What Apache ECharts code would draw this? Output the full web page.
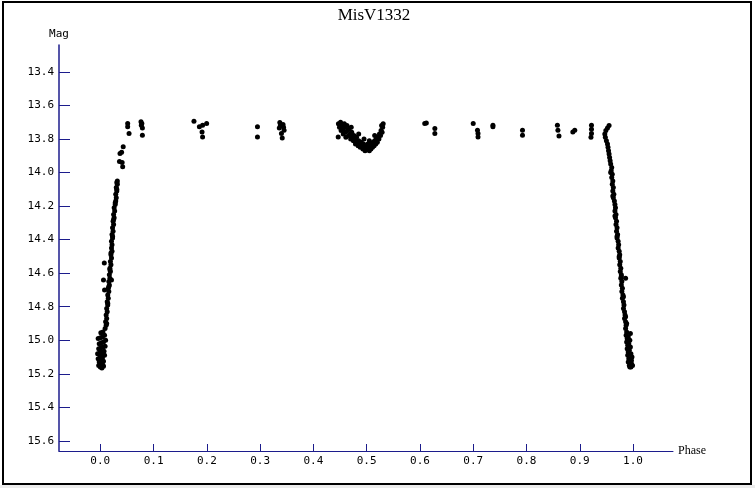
<!DOCTYPE html>
<html>
<head>
<meta charset="utf-8">
<script src="https://cdn.jsdelivr.net/npm/echarts@6/dist/echarts.min.js"></script>
<style>
  html, body { margin: 0; padding: 0; background: #fff; }
  #chart { width: 755px; height: 488px; }
</style>
</head>
<body>
<div id="chart"></div>
<script>
  // tick labels
  const phaseTicks = [0.0, 0.1, 0.2, 0.3, 0.4, 0.5, 0.6, 0.7, 0.8, 0.9, 1.0]
  const magTicks = [13.4, 13.6, 13.8, 14.0, 14.2, 14.4, 14.6, 14.8, 15.0, 15.2, 15.4, 15.6]

  // rise out of primary minimum (phase 0)
  const egressPhase = [
    0.000, 0.003, 0.006, 0.001, 0.004, -0.002, 0.002, 0.006, -0.004, 0.000, 0.004, 0.008,
    -0.005, -0.001, 0.003, 0.007, -0.003, 0.001, 0.005, 0.009, -0.002, 0.002, 0.006, 0.010,
    -0.004, 0.000, 0.004, 0.008, 0.001, 0.005, 0.003, 0.005, -0.003,
    0.009, 0.011, 0.010, 0.012, 0.011, 0.013, 0.012, 0.014, 0.013, 0.015, 0.014, 0.016,
    0.015, 0.017, 0.016, 0.018, 0.017, 0.019, 0.018, 0.020, 0.019, 0.021, 0.020, 0.022,
    0.021, 0.022, 0.021, 0.023, 0.022, 0.024, 0.023, 0.025, 0.024, 0.026, 0.025, 0.027,
    0.026, 0.028, 0.029, 0.030, 0.029, 0.031, 0.030, 0.032, 0.031, 0.032,
    0.0075, 0.006, 0.008, 0.021,
    0.036, 0.041, 0.042, 0.037, 0.040, 0.043,
    0.012, 0.014, 0.016, 0.018, 0.020, 0.023, 0.025, 0.028, 0.031
  ]
  const egressMag = [
    15.16, 15.165, 15.155, 15.14, 15.145, 15.13, 15.12, 15.125, 15.11, 15.10, 15.105, 15.09,
    15.08, 15.075, 15.07, 15.065, 15.05, 15.045, 15.04, 15.035, 15.02, 15.015, 15.01, 15.00,
    14.99, 14.985, 14.98, 14.97, 14.955, 14.95, 15.09, 15.15, 15.15,
    14.93, 14.91, 14.89, 14.87, 14.85, 14.83, 14.81, 14.79, 14.77, 14.75, 14.73, 14.71,
    14.69, 14.67, 14.65, 14.63, 14.61, 14.59, 14.57, 14.55, 14.53, 14.51, 14.49, 14.47,
    14.45, 14.43, 14.41, 14.39, 14.37, 14.35, 14.33, 14.31, 14.29, 14.27, 14.25, 14.23,
    14.21, 14.19, 14.17, 14.15, 14.13, 14.11, 14.09, 14.07, 14.06, 14.05,
    14.54, 14.64, 14.70, 14.64,
    13.935, 13.94, 13.965, 13.887, 13.88, 13.846,
    14.90, 14.78, 14.68, 14.58, 14.48, 14.38, 14.28, 14.18, 14.10
  ]

  // out-of-eclipse points
  const plateauPhase = [
    0.0514, 0.0514, 0.054, 0.0764, 0.077, 0.079, 0.079, 0.078,
    0.1758, 0.186, 0.192, 0.1996, 0.191, 0.192,
    0.295, 0.295, 0.337, 0.343, 0.336, 0.345, 0.340, 0.3415, 0.338, 0.344,
    0.609, 0.612, 0.628, 0.628, 0.700, 0.708, 0.709, 0.709, 0.737, 0.737,
    0.7925, 0.7925, 0.858, 0.859, 0.861, 0.887, 0.8906,
    0.922, 0.922, 0.922, 0.921
  ]
  const plateauMag = [
    13.708, 13.728, 13.768, 13.698, 13.718, 13.734, 13.778, 13.708,
    13.694, 13.728, 13.718, 13.708, 13.758, 13.788,
    13.728, 13.788, 13.702, 13.714, 13.734, 13.748, 13.768, 13.794, 13.72, 13.73,
    13.708, 13.705, 13.738, 13.768, 13.708, 13.748, 13.768, 13.788, 13.718, 13.728,
    13.748, 13.778, 13.718, 13.748, 13.782, 13.758, 13.748,
    13.718, 13.742, 13.768, 13.79
  ]

  // secondary minimum (phase 0.5)
  const secondaryPhase = [
    0.4466, 0.447, 0.449, 0.451, 0.452, 0.454, 0.455, 0.456, 0.458, 0.459, 0.460, 0.461,
    0.463, 0.464, 0.466, 0.467, 0.469, 0.470, 0.472, 0.473, 0.475, 0.476, 0.478, 0.479,
    0.481, 0.482, 0.484, 0.485, 0.487, 0.488, 0.490, 0.491, 0.493, 0.494, 0.496, 0.497,
    0.499, 0.500, 0.502, 0.503, 0.505, 0.506, 0.508, 0.509, 0.511, 0.512, 0.514, 0.515,
    0.517, 0.518, 0.520, 0.521, 0.523, 0.524, 0.526, 0.527, 0.529, 0.530, 0.531, 0.528,
    0.471, 0.485, 0.495, 0.505, 0.515
  ]
  const secondaryMag = [
    13.788, 13.71, 13.73, 13.70, 13.75, 13.72, 13.74, 13.77, 13.71, 13.73, 13.76, 13.79,
    13.72, 13.75, 13.78, 13.74, 13.77, 13.80, 13.76, 13.79, 13.81, 13.78, 13.80, 13.83,
    13.79, 13.82, 13.84, 13.81, 13.83, 13.85, 13.82, 13.84, 13.86, 13.83, 13.85, 13.87,
    13.84, 13.86, 13.83, 13.85, 13.87, 13.84, 13.86, 13.83, 13.85, 13.82, 13.84, 13.81,
    13.83, 13.80, 13.82, 13.79, 13.80, 13.77, 13.78, 13.75, 13.76, 13.73, 13.71, 13.72,
    13.73, 13.77, 13.80, 13.81, 13.78
  ]

  // fall into primary minimum (phase 1)
  const ingressPhase = [
    0.955, 0.952, 0.949, 0.947, 0.948, 0.950, 0.952, 0.953, 0.954, 0.955, 0.956, 0.957,
    0.958, 0.960, 0.959, 0.961, 0.960, 0.962, 0.961, 0.963, 0.962, 0.964, 0.963, 0.965,
    0.966, 0.967, 0.966, 0.968, 0.967, 0.969, 0.968, 0.970, 0.969, 0.971, 0.970, 0.972,
    0.973, 0.972, 0.974, 0.975, 0.974, 0.976, 0.975, 0.977, 0.976, 0.978, 0.977, 0.979,
    0.978, 0.980, 0.979, 0.981, 0.980, 0.982, 0.983, 0.982, 0.984, 0.985, 0.984, 0.986,
    0.987, 0.986, 0.988, 0.987, 0.989, 0.988, 0.990, 0.989, 0.991, 0.990, 0.992, 0.991,
    0.993, 0.994, 0.996, 0.997, 0.995, 0.998, 0.996, 0.993, 0.995, 0.992, 0.994, 0.991,
    0.997, 0.999, 0.995, 0.988, 0.986,
    0.958, 0.962, 0.966, 0.970, 0.974, 0.978, 0.982, 0.986, 0.990
  ]
  const ingressMag = [
    13.72, 13.735, 13.75, 13.77, 13.79, 13.81, 13.83, 13.85, 13.87, 13.89, 13.91, 13.93,
    13.95, 13.97, 13.99, 14.01, 14.03, 14.05, 14.07, 14.09, 14.11, 14.13, 14.15, 14.17,
    14.19, 14.21, 14.23, 14.25, 14.27, 14.29, 14.31, 14.33, 14.35, 14.37, 14.39, 14.41,
    14.43, 14.45, 14.47, 14.49, 14.51, 14.53, 14.55, 14.57, 14.59, 14.61, 14.63, 14.65,
    14.67, 14.69, 14.71, 14.73, 14.75, 14.77, 14.79, 14.81, 14.83, 14.85, 14.87, 14.89,
    14.91, 14.93, 14.95, 14.97, 14.99, 15.01, 15.03, 15.05, 15.07, 15.09, 15.11, 15.13,
    15.15, 15.16, 15.16, 15.14, 15.12, 15.10, 15.08, 15.06, 15.04, 15.02, 15.00, 14.98,
    15.12, 15.15, 14.96, 14.90, 14.63,
    14.00, 14.14, 14.26, 14.38, 14.50, 14.62, 14.74, 14.86, 14.98
  ]

  const axisColor = '#1c1c8c'
  const labelFont = 'DejaVu Sans Mono'

  function pairs(xs, ys) {
    return xs.map((x, i) => [x, ys[i]])
  }

  const points = [].concat(
    pairs(egressPhase, egressMag),
    pairs(plateauPhase, plateauMag),
    pairs(secondaryPhase, secondaryMag),
    pairs(ingressPhase, ingressMag)
  )

  const chart = echarts.init(document.getElementById('chart'))
  chart.setOption({
    animation: false,
    backgroundColor: '#fff',
    title: {
      text: 'MisV1332',
      left: 369,
      top: 2,
      textAlign: 'center',
      textStyle: {
        fontFamily: 'Liberation Serif',
        fontSize: 17,
        fontWeight: 'normal',
        color: '#000'
      }
    },
    graphic: [
      {
        type: 'rect',
        shape: { x: 3, y: 2, width: 748, height: 482 },
        style: { fill: 'none', stroke: '#000', lineWidth: 2 },
        silent: true
      },
      {
        type: 'rect',
        shape: { x: 0, y: 485, width: 755, height: 3 },
        style: { fill: '#ececec' },
        silent: true
      }
    ],
    grid: {
      left: 59,
      right: 82,
      top: 45,
      bottom: 37
    },
    xAxis: {
      type: 'value',
      min: -0.0775,
      max: 1.075,
      name: 'Phase',
      nameLocation: 'end',
      nameGap: 5,
      nameTextStyle: {
        fontFamily: 'Liberation Serif',
        fontSize: 12,
        color: '#000'
      },
      axisLine: { onZero: false, lineStyle: { color: axisColor, width: 1 } },
      axisTick: {
        inside: true,
        length: 7,
        customValues: phaseTicks,
        lineStyle: { color: axisColor }
      },
      axisLabel: {
        customValues: phaseTicks,
        margin: 5,
        fontFamily: labelFont,
        fontSize: 11,
        color: '#000',
        formatter: (v) => v.toFixed(1)
      },
      splitLine: { show: false }
    },
    yAxis: {
      type: 'value',
      inverse: true,
      min: 13.24,
      max: 15.66,
      name: 'Mag',
      nameLocation: 'start',
      nameGap: 5,
      nameTextStyle: {
        fontFamily: labelFont,
        fontSize: 11,
        color: '#000'
      },
      axisLine: { show: true, onZero: false, lineStyle: { color: axisColor, width: 1.5 } },
      axisTick: {
        show: true,
        inside: true,
        length: 11,
        customValues: magTicks,
        lineStyle: { color: axisColor }
      },
      axisLabel: {
        customValues: magTicks,
        margin: 5,
        fontFamily: labelFont,
        fontSize: 11,
        color: '#000',
        formatter: (v) => v.toFixed(1)
      },
      splitLine: { show: false }
    },
    series: [
      {
        type: 'scatter',
        data: points,
        symbol: 'circle',
        symbolSize: 5,
        itemStyle: { color: '#000', opacity: 1 }
      }
    ]
  })
</script>
</body>
</html>
